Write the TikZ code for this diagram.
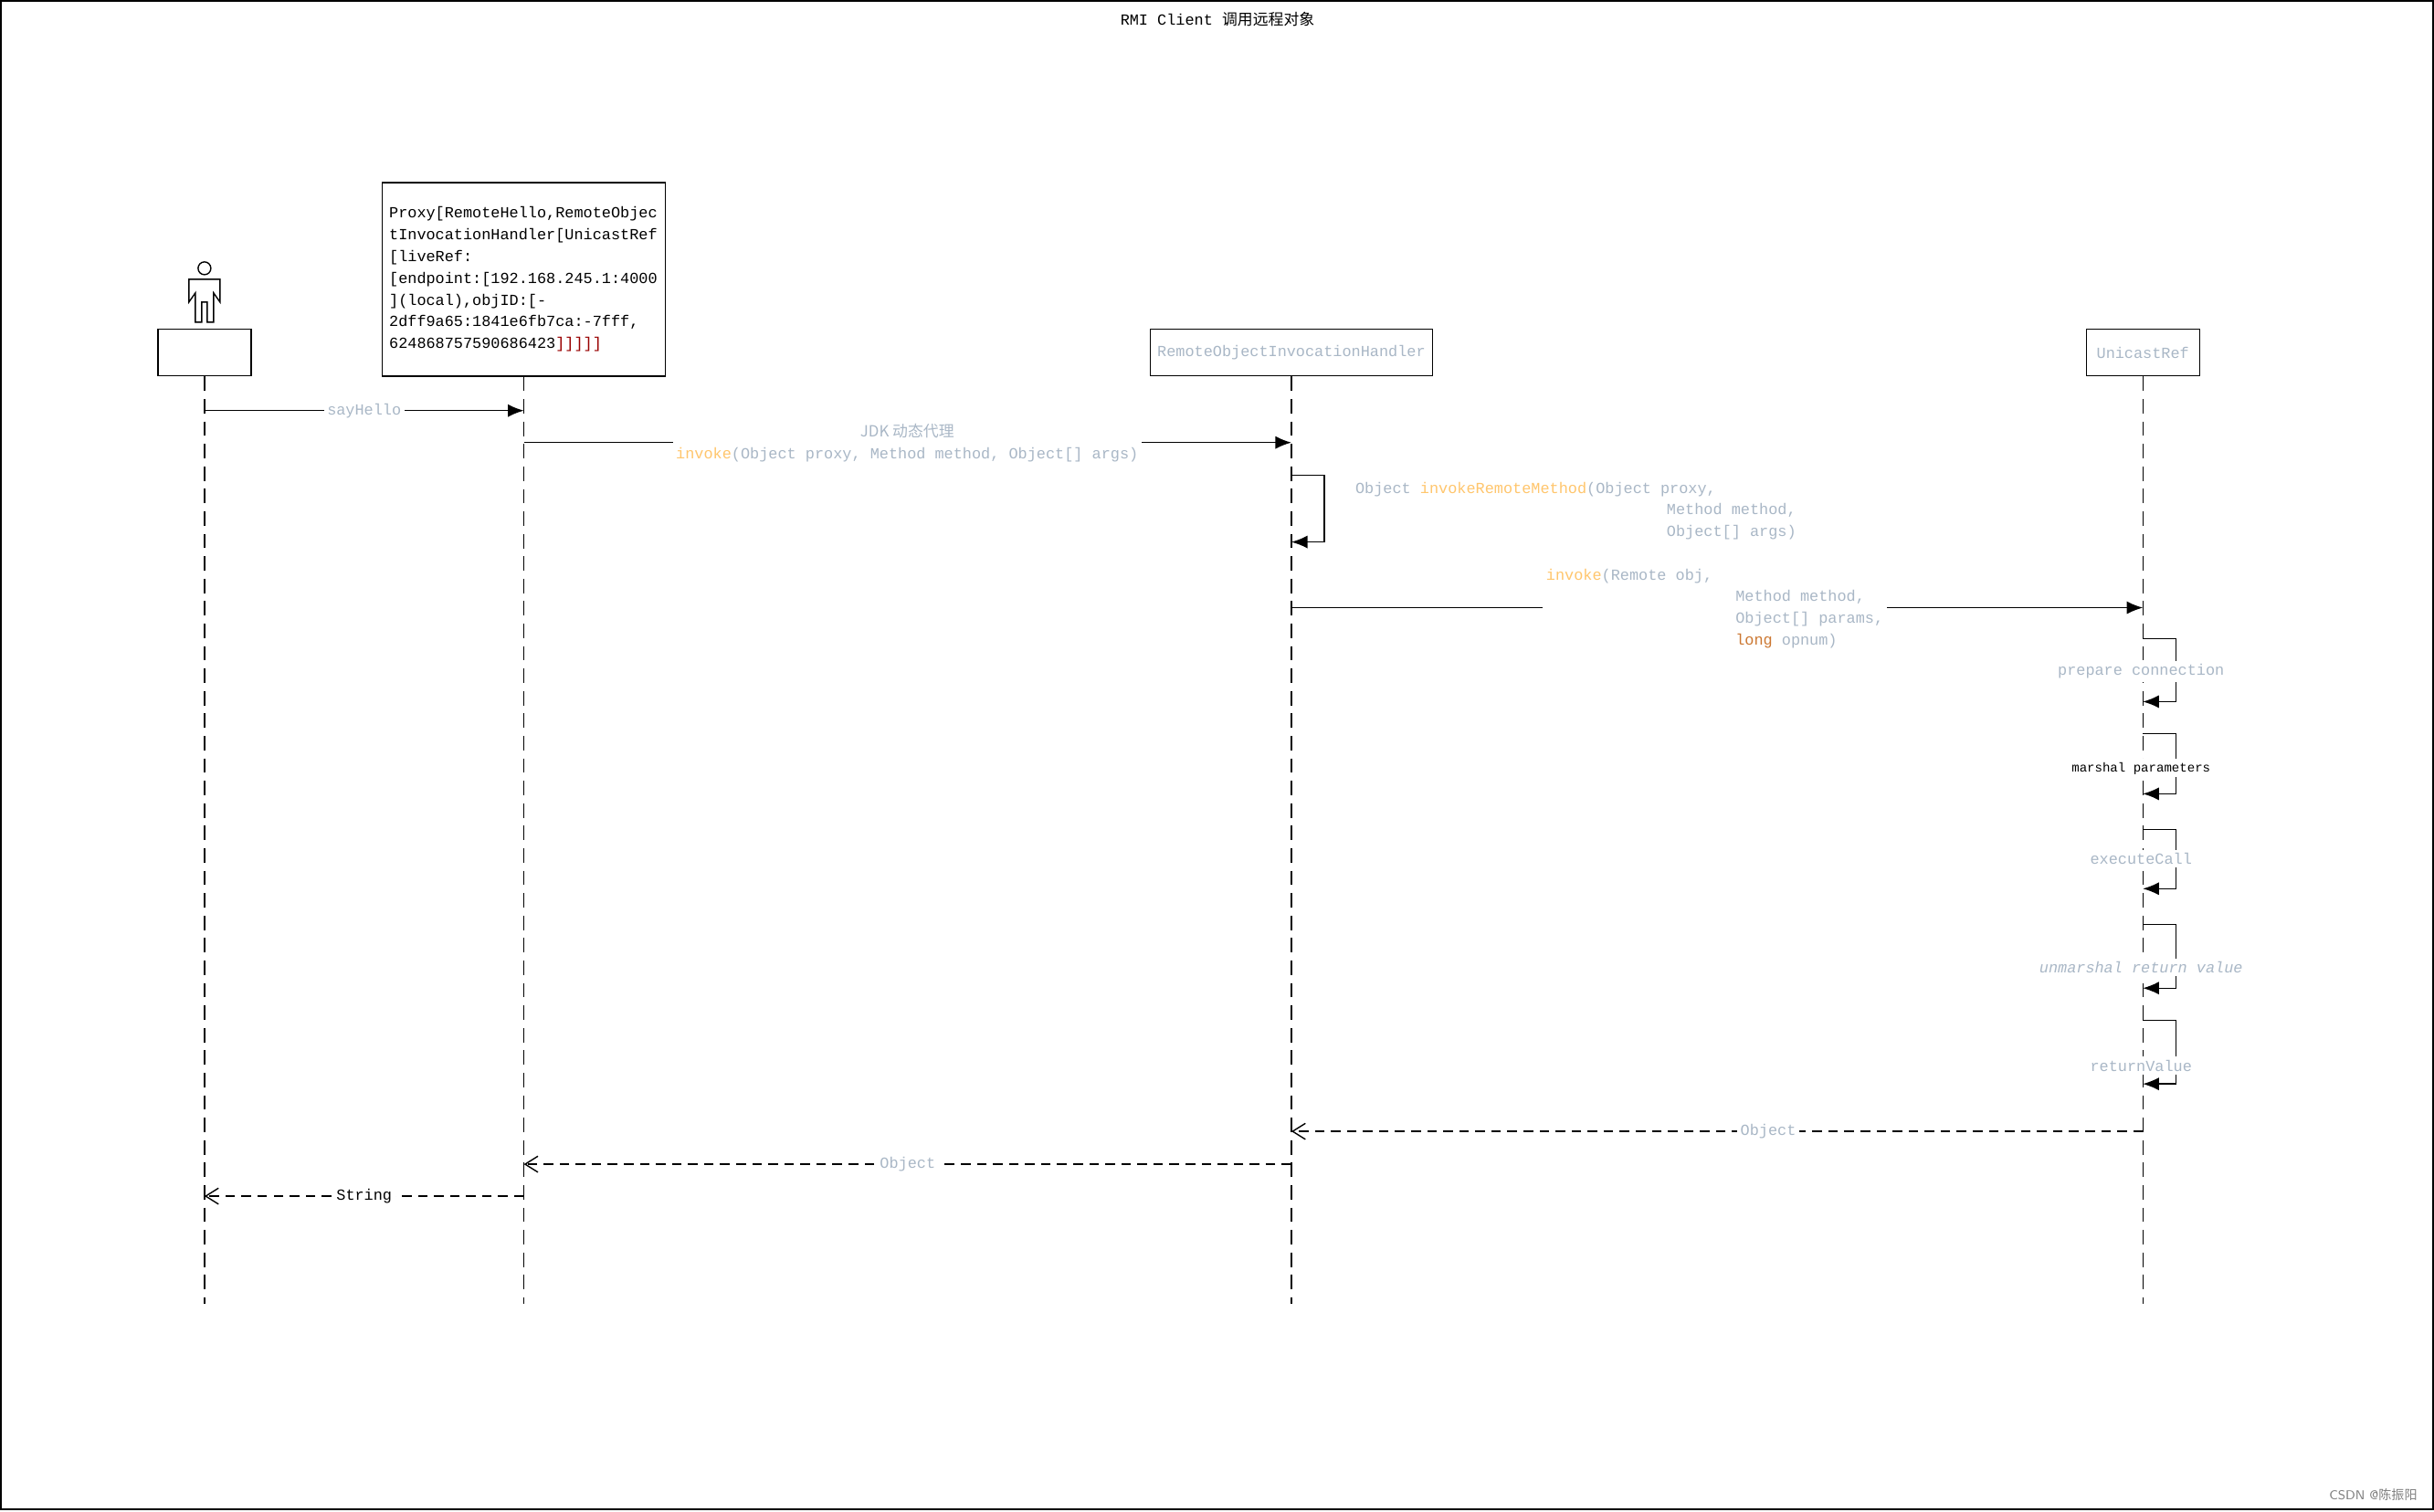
\documentclass[tikz,border=0pt]{standalone}
\usepackage{fontspec}
\setmainfont{Liberation Mono}
\newfontfamily\cjk{Noto Sans CJK SC}
\usetikzlibrary{arrows.meta}
\definecolor{lb}{HTML}{A9B7C6}
\definecolor{og}{HTML}{FFC66D}
\definecolor{kw}{HTML}{CC7832}
\begin{document}
\begin{tikzpicture}[x=0.01cm,y=-0.01cm,
  txt/.style={font=\fontsize{4.8}{6.8}\selectfont,inner sep=1pt},
  lt/.style={txt,text=lb},
  life/.style={dash pattern=on 4.5pt off 2.5pt,line width=0.4pt},
  msg/.style={-{Latex[length=5pt,width=4pt]},line width=0.4pt},
  ret/.style={-{Straight Barb[length=4pt,width=5pt]},dash pattern=on 3pt off 2pt,line width=0.4pt},
  box/.style={draw,line width=0.4pt}]
\draw[line width=0.6pt,fill=white] (0,0) rectangle (2665,1653);
\node[txt] (title) at (1333,20) {RMI Client {\cjk 调用远程对象}};
% actor
\node[box,minimum width=1.02cm,minimum height=0.51cm] (a) at (223,385.5) {};
\draw[line width=0.4pt] (223,293) circle (7);
\draw[line width=0.4pt] (213,352) -- (213,320) -- (206,330) -- (206,305) -- (240,305) -- (240,330) -- (233,320) -- (233,352) -- (226,352) -- (226,330) -- (220,330) -- (220,352) -- cycle;
\node[box,txt,minimum width=3.1cm,minimum height=2.12cm,align=left,text width=2.95cm] (p) at (573,305) {Proxy[RemoteHello,RemoteObjec\\tInvocationHandler[UnicastRef\\{}[liveRef:\\{}[endpoint:[192.168.245.1:4000\\](local),objID:[-\\2dff9a65:1841e6fb7ca:-7fff,\\624868757590686423\textcolor{red!60!black}{]]]]]}};
\node[box,lt,minimum width=3.09cm,minimum height=0.51cm] (r) at (1414,385.5) {RemoteObjectInvocationHandler};
\node[box,lt,minimum width=1.24cm,minimum height=0.51cm] (u) at (2347,385.5) {UnicastRef};
\coordinate (ae) at (223,1428);\coordinate (pe) at (573,1428);
\coordinate (re) at (1414,1428);\coordinate (ue) at (2347,1428);
\draw[life] (a.south) -- (ae);\draw[life] (p.south) -- (pe);
\draw[life] (r.south) -- (re);\draw[life] (u.south) -- (ue);
% sayHello
\coordinate (a1) at (223,449);\coordinate (p1) at (573,449);
\draw[msg] (a1) -- node[lt,fill=white]{sayHello} (p1);
\coordinate (p2) at (573,484);\coordinate (r2) at (1414,484);
\draw[msg] (p2) -- (r2);
\node[lt,fill=white,align=center] (l2) at (993,484) {{\cjk\itshape JDK 动态代理}\\\textcolor{og}{invoke}(Object proxy, Method method, Object[] args)};
% self call
\coordinate (r3) at (1414,520);\coordinate (r4) at (1414,593);
\draw[msg] (r3) -- (1450,520) -- (1450,593) -- (r4);
\node[lt,anchor=north west,align=left] (l3) at (1480,523) {Object \textcolor{og}{invokeRemoteMethod}(Object proxy,\\\hspace*{97pt}Method method,\\\hspace*{97pt}Object[] args)};
% invoke to UnicastRef
\coordinate (r5) at (1414,665);\coordinate (u5) at (2347,665);
\draw[msg] (r5) -- (u5);
\node[lt,fill=white,anchor=north west,align=left] (l5) at (1689,618) {\textcolor{og}{invoke}(Remote obj,\\\hspace*{59pt}Method method,\\\hspace*{59pt}Object[] params,\\\hspace*{59pt}\textcolor{kw}{long} opnum)};
% self calls at UnicastRef
\foreach \t/\b/\m/\s [count=\i] in {699/768/735/{prepare connection},803/869/841/{\textcolor{black}{\fontsize{4}{5}\selectfont marshal parameters}},908/973/940/executeCall,1012/1082/1059/{\itshape unmarshal return value},1117/1187/1167/returnValue}{
  \coordinate (ut\i) at (2347,\t);\coordinate (ub\i) at (2347,\b);
  \draw[msg] (ut\i) -- (2383,\t) -- (2383,\b) -- (ub\i);
  \node[lt,fill=white] (ul\i) at (2345,\m) {\s};
}
% returns
\coordinate (u6) at (2347,1239);\coordinate (r6) at (1414,1239);
\draw[ret] (u6) -- node[lt,fill=white,pos=0.44]{Object} (r6);
\coordinate (r7) at (1414,1275);\coordinate (p7) at (573,1275);
\draw[ret] (r7) -- node[lt,fill=white,pos=0.5]{Object} (p7);
\coordinate (p8) at (573,1310);\coordinate (a8) at (223,1310);
\draw[ret] (p8) -- node[txt,fill=white,pos=0.5]{String} (a8);
\node[font=\fontsize{4}{5}\selectfont\sffamily,text=gray,anchor=east] (wm) at (2660,1637) {CSDN @{\cjk 陈振阳}};
\end{tikzpicture}
\end{document}
